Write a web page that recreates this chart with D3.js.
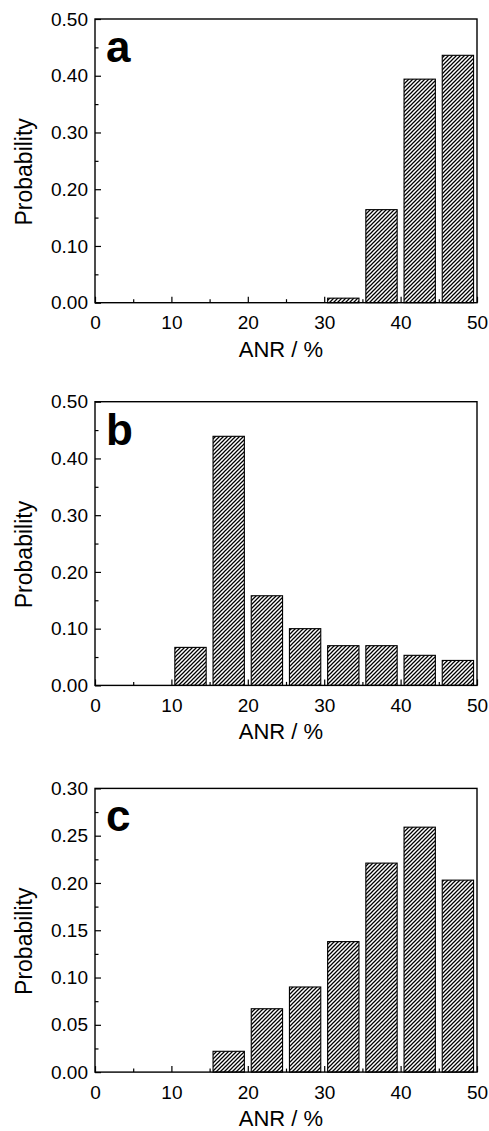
<!DOCTYPE html>
<html>
<head>
<meta charset="utf-8">
<script src="https://d3js.org/d3.v7.min.js"></script>
<style>
  body { margin: 0; background: #fff; }
  svg text { font-family: "Liberation Sans", Arial, sans-serif; fill: #000; }
</style>
</head>
<body>
<svg id="chart" width="489" height="1131"></svg>
<script>
// histogram bins, ANR / %
const binStarts = [0, 5, 10, 15, 20, 25, 30, 35, 40, 45];
const xTicks = [0, 10, 20, 30, 40, 50];

const probA = [0, 0, 0, 0, 0, 0, 0.008, 0.164, 0.394, 0.436];
const probB = [0, 0, 0.067, 0.439, 0.158, 0.100, 0.070, 0.070, 0.053, 0.044];
const probC = [0, 0, 0, 0.022, 0.067, 0.090, 0.138, 0.221, 0.259, 0.203];

const yTicksAB = [0, 0.1, 0.2, 0.3, 0.4, 0.5];
const yTicksC = [0, 0.05, 0.1, 0.15, 0.2, 0.25, 0.3];

const panels = [
  {label: "a", values: probA, ymax: 0.5, ticks: yTicksAB, top: 19},
  {label: "b", values: probB, ymax: 0.5, ticks: yTicksAB, top: 401.7},
  {label: "c", values: probC, ymax: 0.3, ticks: yTicksC, top: 788.4}
];

const svg = d3.select("#chart");
const left = 95, right = 477, h = 283.7;

// hatch fill
svg.append("defs").append("pattern")
    .attr("id", "hatch")
    .attr("patternUnits", "userSpaceOnUse")
    .attr("width", 4).attr("height", 4)
  .append("path")
    .attr("d", "M-1,1 L1,-1 M0,4 L4,0 M3,5 L5,3")
    .attr("stroke", "#000")
    .attr("stroke-width", 1.25);

var x = d3.scaleLinear().domain([0, 50]).range([left, right]);

panels.forEach(p => {
  var y = d3.scaleLinear().domain([0, p.ymax]).range([p.top + h, p.top]);
  var step = p.ticks[1] - p.ticks[0];
  var g = svg.append("g");

  // bars
  var data = binStarts.map((b, i) => ({lo: b, v: p.values[i]})).filter(d => d.v > 0);
  g.selectAll(".bar")
    .data(data)
    .enter().append("rect")
      .attr("class", "bar")
      .attr("x", d => x(d.lo + 0.45))
      .attr("width", d => x(d.lo + 5 - 0.45) - x(d.lo + 0.45))
      .attr("y", d => y(d.v))
      .attr("height", d => y(0) - y(d.v))
      .attr("fill", "url(#hatch)")
      .attr("stroke", "#000")
      .attr("stroke-width", 1.1);

  // x axis, ticks pointing inside
  g.append("g")
    .attr("transform", "translate(0," + y(0) + ")")
    .call(d3.axisBottom(x).tickValues(xTicks).tickSize(-6).tickPadding(13).tickFormat(d3.format("d")));
  g.append("g")
    .attr("transform", "translate(0," + y(0) + ")")
    .call(d3.axisBottom(x).tickValues(d3.range(5, 50, 10)).tickSize(-3.5).tickFormat(""));

  // y axis
  g.append("g")
    .attr("transform", "translate(" + left + ",0)")
    .call(d3.axisLeft(y).tickValues(p.ticks).tickSize(-6).tickPadding(7).tickFormat(d3.format(".2f")));
  g.append("g")
    .attr("transform", "translate(" + left + ",0)")
    .call(d3.axisLeft(y).tickValues(p.ticks.slice(0, -1).map(t => t + step / 2)).tickSize(-3.5).tickFormat(""));

  g.selectAll(".domain").remove();
  g.selectAll(".tick line").attr("stroke", "#000").attr("stroke-width", 1.2);
  g.selectAll(".tick text").style("font-size", "19px").attr("fill", "#000");

  // frame
  g.append("rect")
    .attr("x", left).attr("y", p.top)
    .attr("width", right - left).attr("height", h)
    .attr("fill", "none")
    .attr("stroke", "#000")
    .attr("stroke-width", 1.4);

  // panel letter
  g.append("text")
    .attr("x", left + 11)
    .attr("y", p.top + 43)
    .style("font-size", "44px")
    .style("font-weight", "bold")
    .text(p.label);

  // axis titles
  g.append("text")
    .attr("x", (left + right) / 2 - 5)
    .attr("y", p.top + h + 54)
    .attr("text-anchor", "middle")
    .style("font-size", "22px")
    .text("ANR / %");

  g.append("text")
    .attr("transform", "translate(32," + (p.top + h / 2 + 11) + ") rotate(-90)")
    .attr("text-anchor", "middle")
    .style("font-size", "23px")
    .text("Probability");
});
</script>
</body>
</html>
